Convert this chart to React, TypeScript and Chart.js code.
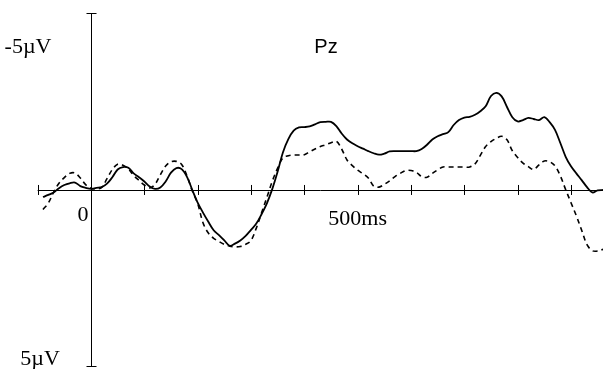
import React, { useEffect, useRef } from "react";
import { Chart, registerables } from "chart.js";

Chart.register(...registerables);

// time axis (ms), sampled every 10 ms
const times: number[] = [];
for (let t = -90; t <= 960; t += 10) times.push(t);

// Solid waveform (µV), negative plotted upward
const solidValues = [
  0.2, 0.14, 0.07, -0.05, -0.14, -0.19, -0.21, -0.11, -0.06, -0.03,
  -0.06, -0.08, -0.18, -0.36, -0.58, -0.65, -0.63, -0.47, -0.36, -0.24,
  -0.1, -0.03, -0.07, -0.24, -0.49, -0.62, -0.59, -0.37, 0.0, 0.36,
  0.64, 0.9, 1.14, 1.28, 1.43, 1.58, 1.52, 1.43, 1.3, 1.13,
  0.95, 0.68, 0.37, -0.03, -0.52, -1.07, -1.44, -1.68, -1.77, -1.78,
  -1.8, -1.86, -1.92, -1.93, -1.93, -1.81, -1.6, -1.43, -1.32, -1.24,
  -1.17, -1.1, -1.04, -1.0, -1.03, -1.09, -1.1, -1.1, -1.1, -1.1,
  -1.1, -1.16, -1.28, -1.43, -1.52, -1.58, -1.64, -1.84, -1.98, -2.05,
  -2.07, -2.13, -2.23, -2.37, -2.66, -2.75, -2.65, -2.35, -2.06, -1.94,
  -1.98, -2.04, -2.01, -1.98, -2.06, -1.92, -1.7, -1.33, -0.94, -0.67,
  -0.47, -0.28, -0.08, 0.07, 0.01, 0.0,
];

// Dashed waveform (µV)
const dashedValues = [
  0.55, 0.37, 0.06, -0.19, -0.35, -0.47, -0.48, -0.34, -0.15, -0.05,
  -0.03, -0.07, -0.32, -0.58, -0.73, -0.7, -0.6, -0.41, -0.27, -0.14,
  -0.06, -0.16, -0.43, -0.68, -0.8, -0.81, -0.72, -0.4, 0.03, 0.38,
  0.93, 1.22, 1.37, 1.46, 1.54, 1.59, 1.61, 1.6, 1.54, 1.43,
  1.08, 0.64, 0.2, -0.25, -0.62, -0.91, -0.97, -0.99, -0.99, -1.0,
  -1.08, -1.16, -1.23, -1.28, -1.34, -1.38, -1.16, -0.85, -0.69, -0.56,
  -0.46, -0.34, -0.11, -0.08, -0.16, -0.26, -0.38, -0.47, -0.55, -0.55,
  -0.5, -0.38, -0.36, -0.47, -0.57, -0.65, -0.65, -0.65, -0.65, -0.65,
  -0.65, -0.74, -0.98, -1.23, -1.37, -1.46, -1.52, -1.42, -1.11, -0.92,
  -0.76, -0.66, -0.58, -0.71, -0.82, -0.8, -0.68, -0.4, -0.01, 0.36,
  0.73, 1.14, 1.55, 1.72, 1.73, 1.68,
];

const xTicks = [-100, 0, 100, 200, 300, 400, 500, 600, 700, 800, 900];
const yTop = -5;
const yBottom = 5;
const channelLabel = "Pz";
const topLabel = "-5µV";
const bottomLabel = "5µV";
const zeroLabel = "0";
const msLabel = "500ms";

const axesPlugin = {
  id: "erpAxes",
  beforeDatasetsDraw(chart: any) {
    const ctx = chart.ctx;
    const xs = chart.scales.x;
    const ys = chart.scales.y;
    const y0 = ys.getPixelForValue(0);
    const x0 = xs.getPixelForValue(0);
    ctx.save();
    ctx.strokeStyle = "#000";
    ctx.lineWidth = 1;
    // x axis
    ctx.beginPath();
    ctx.moveTo(xs.getPixelForValue(xTicks[0]), Math.round(y0) + 0.5);
    ctx.lineTo(chart.width, Math.round(y0) + 0.5);
    for (const t of xTicks) {
      const px = Math.round(xs.getPixelForValue(t)) + 0.5;
      ctx.moveTo(px, y0 - 5);
      ctx.lineTo(px, y0 + 5);
    }
    // y axis
    const yt = ys.getPixelForValue(yTop);
    const yb = ys.getPixelForValue(yBottom);
    const ax = Math.round(x0) + 0.5;
    ctx.moveTo(ax, yt);
    ctx.lineTo(ax, yb);
    ctx.moveTo(ax - 5, Math.round(yt) + 0.5);
    ctx.lineTo(ax + 5, Math.round(yt) + 0.5);
    ctx.moveTo(ax - 5, Math.round(yb) - 0.5);
    ctx.lineTo(ax + 5, Math.round(yb) - 0.5);
    ctx.stroke();

    ctx.fillStyle = "#000";
    ctx.textBaseline = "middle";
    ctx.textAlign = "center";
    ctx.font = "22px 'Liberation Serif', 'Times New Roman', serif";
    ctx.fillText(topLabel, 28, 47);
    ctx.fillText(bottomLabel, 40, 359);
    ctx.fillText(zeroLabel, x0 - 8, y0 + 25);
    ctx.fillText(msLabel, xs.getPixelForValue(500), y0 + 29);
    ctx.font = "20px 'Liberation Sans', Arial, sans-serif";
    ctx.fillText(channelLabel, 326, 47);
    ctx.restore();
  },
};

export default function App() {
  const ref = useRef<HTMLCanvasElement | null>(null);
  useEffect(() => {
    if (!ref.current) return;
    const chart = new Chart(ref.current, {
      type: "line",
      data: {
        labels: times,
        datasets: [
          {
            label: "solid",
            data: times.map((t, i) => ({ x: t, y: solidValues[i] })),
            borderColor: "#000",
            borderWidth: 1.8,
            pointRadius: 0,
            tension: 0.35,
            fill: false,
          },
          {
            label: "dashed",
            data: times.map((t, i) => ({ x: t, y: dashedValues[i] })),
            borderColor: "#000",
            borderWidth: 1.6,
            borderDash: [5, 4],
            pointRadius: 0,
            tension: 0.35,
            fill: false,
          },
        ],
      },
      options: {
        responsive: false,
        animation: false,
        layout: { padding: 0 },
        plugins: { legend: { display: false }, tooltip: { enabled: false }, title: { display: false } },
        scales: {
          x: { type: "linear", display: false, min: -170.6, max: 960 },
          y: { type: "linear", display: false, min: -5.38, max: 5.07, reverse: true },
        },
      },
      plugins: [axesPlugin],
    });
    return () => chart.destroy();
  }, []);
  return (
    <div style={{ position: "fixed", left: 0, top: 0, width: 603, height: 369, background: "#fff" }}>
      <canvas ref={ref} width={603} height={369} style={{ width: 603, height: 369, display: "block" }} />
    </div>
  );
}
